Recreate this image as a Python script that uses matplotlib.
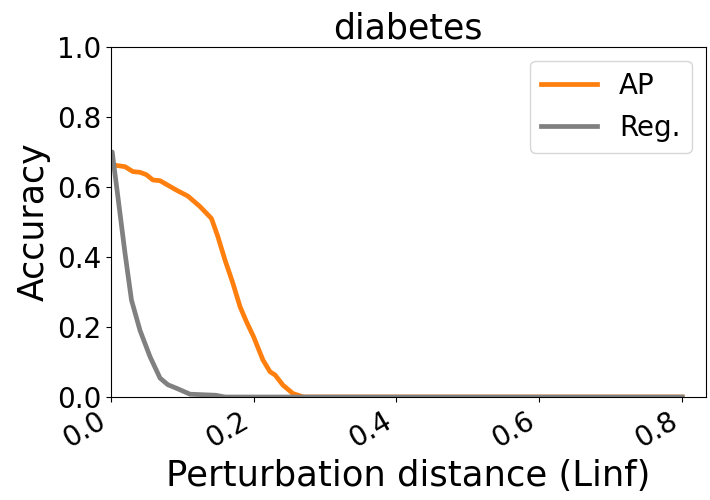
import matplotlib
matplotlib.use("Agg")
import matplotlib.pyplot as plt

eps_ap = [0.0, 0.003, 0.02, 0.031, 0.041, 0.05, 0.059, 0.069, 0.08, 0.092, 0.108, 0.125, 0.141,
          0.15, 0.16, 0.171, 0.181, 0.19, 0.2, 0.213, 0.223, 0.23, 0.241, 0.255, 0.27, 0.8]
acc_ap = [0.665, 0.663, 0.658, 0.644, 0.642, 0.635, 0.62, 0.618, 0.605, 0.591, 0.574, 0.544, 0.51,
          0.458, 0.391, 0.325, 0.258, 0.215, 0.172, 0.106, 0.072, 0.063, 0.034, 0.01, 0.0, 0.0]

eps_reg = [0.0, 0.002, 0.01, 0.02, 0.029, 0.041, 0.055, 0.069, 0.08, 0.092, 0.111, 0.147, 0.16, 0.8]
acc_reg = [0.70, 0.70, 0.572, 0.41, 0.277, 0.19, 0.115, 0.054, 0.035, 0.025, 0.008, 0.005, 0.0, 0.0]

fig = plt.figure(figsize=(7.1, 5.0), dpi=100)
ax = fig.add_axes([0.156, 0.206, 0.838, 0.70])
ax.plot(eps_ap, acc_ap, color="#ff7f0e", lw=3.4, label="AP")
ax.plot(eps_reg, acc_reg, color="#808080", lw=3.4, label="Reg.")
ax.set_xlim(0, 0.833)
ax.set_ylim(0, 1.0)
ax.set_xticks([0.0, 0.2, 0.4, 0.6, 0.8])
ax.set_yticks([0.0, 0.2, 0.4, 0.6, 0.8, 1.0])
ax.tick_params(labelsize=20)
for lab in ax.get_xticklabels():
    lab.set_rotation(30)
    lab.set_ha("right")
ax.set_xlabel("Perturbation distance (Linf)", fontsize=25.5)
ax.set_ylabel("Accuracy", fontsize=25)
ax.set_title("diabetes", fontsize=25)
ax.legend(loc="upper right", fontsize=20)
fig.savefig("out.png", dpi=100)
